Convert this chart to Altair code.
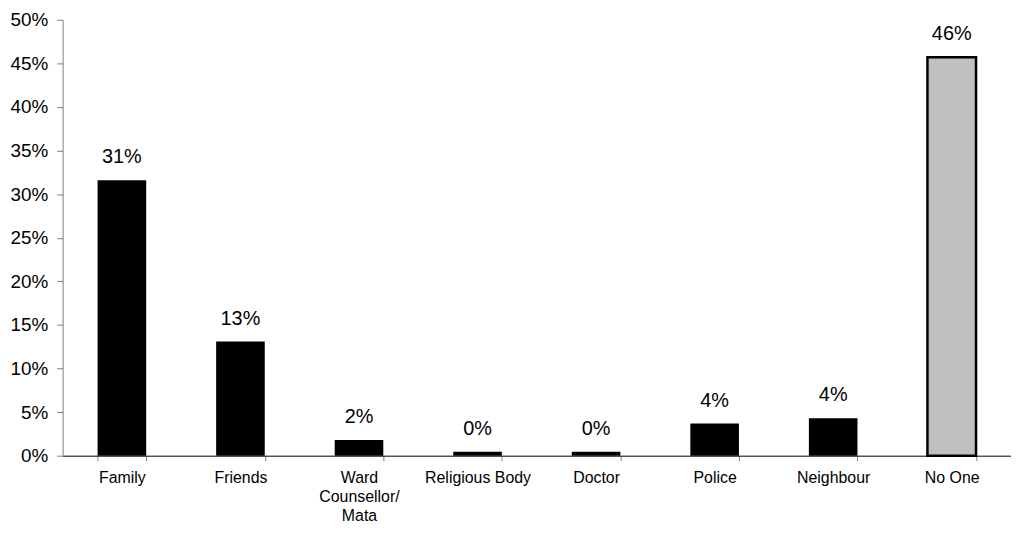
import altair as alt
import pandas as pd

categories = ["Family", "Friends", "Ward Counsellor/Mata", "Religious Body", "Doctor", "Police", "Neighbour", "No One"]
values = [31.6, 13.1, 1.8, 0.45, 0.45, 3.7, 4.3, 45.7]
labels = ["31%", "13%", "2%", "0%", "0%", "4%", "4%", "46%"]
fills = ["#000000"] * 7 + ["#c0c0c0"]

df = pd.DataFrame({"cat": categories, "val": values, "lab": labels, "fill": fills})

FONT = "Liberation Sans"

x = alt.X("cat:N", sort=categories, title=None,
          scale=alt.Scale(paddingInner=0.59, paddingOuter=0.295),
          axis=alt.Axis(labelAngle=0, labelFontSize=16, labelFont=FONT, labelColor="#000000",
                        domainColor="#000000", tickColor="#808080", tickSize=5, tickBand="extent",
                        labelPadding=9, labelLimit=200, labelLineHeight=19, labelBaseline="top",
                        labelExpr="datum.label == 'Ward Counsellor/Mata' ? ['Ward', 'Counsellor/', 'Mata'] : datum.label"))
y = alt.Y("val:Q", title=None,
          scale=alt.Scale(domain=[0, 50], nice=False),
          axis=alt.Axis(values=list(range(0, 51, 5)), labelExpr="datum.value + '%'", grid=False,
                        labelFontSize=19, labelFont=FONT, labelColor="#000000",
                        domainColor="#808080", tickColor="#808080", tickSize=6, labelPadding=9))

bars = alt.Chart(df).mark_bar().encode(
    x=x, y=y,
    fill=alt.Fill("fill:N", scale=None),
    stroke=alt.value("#000000"),
    strokeWidth=alt.condition("datum.cat == 'No One'", alt.value(2.5), alt.value(0)),
)
text = alt.Chart(df).mark_text(dy=-17, fontSize=20, font=FONT, color="#000000", baseline="alphabetic").encode(
    x=alt.X("cat:N", sort=categories), y="val:Q", text="lab:N")

chart = alt.layer(bars, text).properties(
    width=955, height=439, autosize=alt.AutoSizeParams(type="none"),
    padding={"left": 55, "top": 10, "right": 0, "bottom": 68},
    background="#ffffff",
).configure_view(stroke=None)

chart.save("out.html", embed_options={"renderer": "svg", "actions": False})
